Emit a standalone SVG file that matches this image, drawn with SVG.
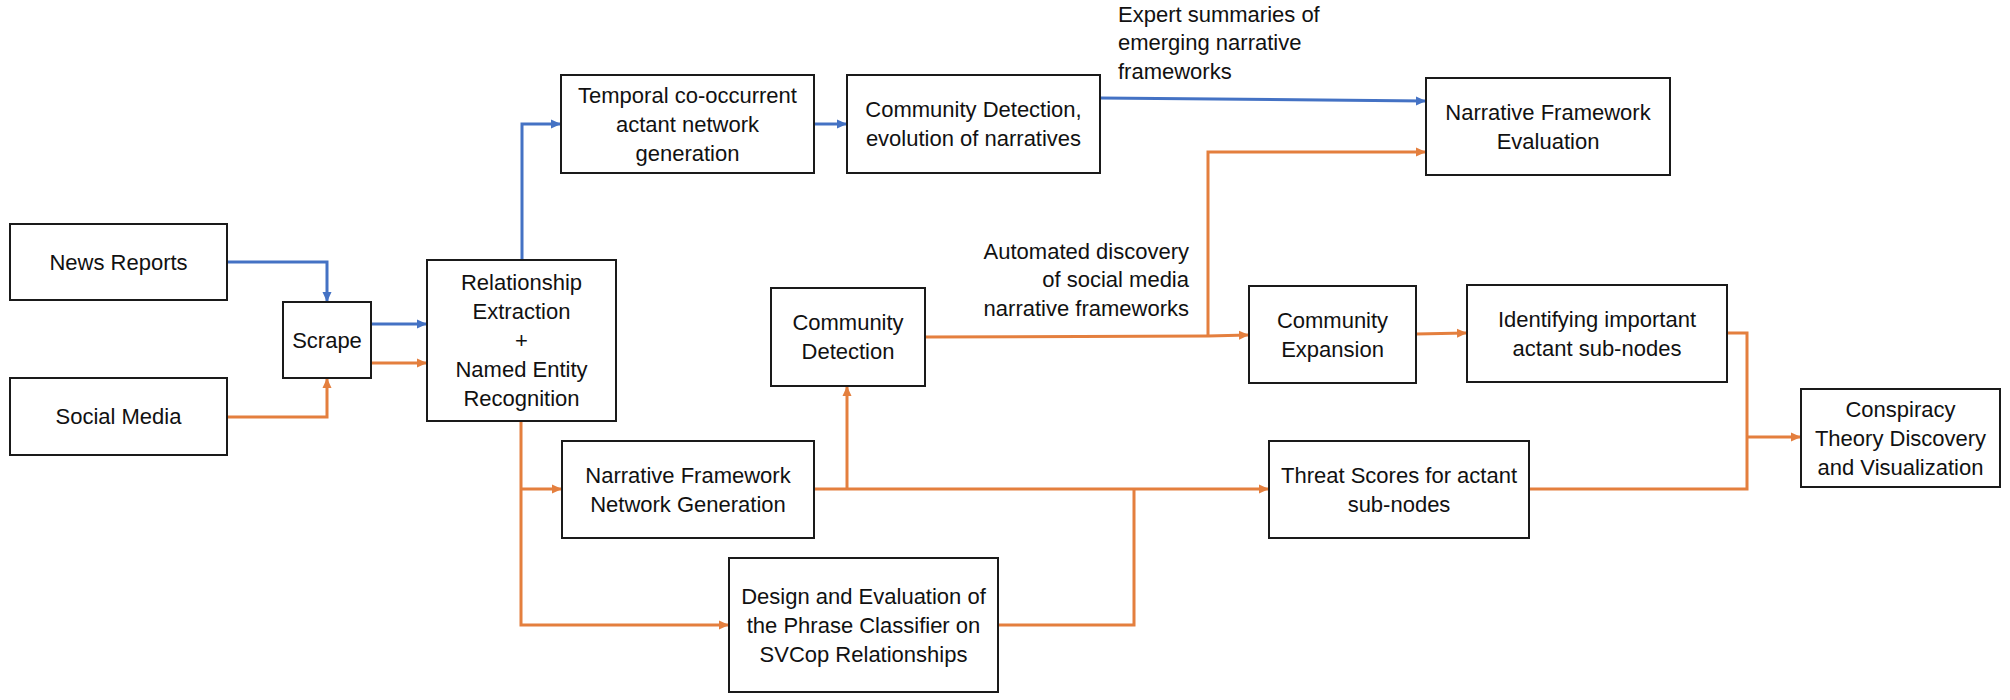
<svg xmlns="http://www.w3.org/2000/svg" width="2010" height="700" viewBox="0 0 2010 700">
<style>
.box{fill:#fff;stroke:#1a1a1a;stroke-width:2}
.t{font-family:"Liberation Sans",Arial,sans-serif;font-size:22px;fill:#111;text-anchor:middle}
.lbl{font-family:"Liberation Sans",Arial,sans-serif;font-size:22px;fill:#111}
.b{fill:none;stroke:#4472C4;stroke-width:3}
.o{fill:none;stroke:#E47F3E;stroke-width:3}
</style>
<defs>
<marker id="ab" markerUnits="userSpaceOnUse" markerWidth="10" markerHeight="10" refX="9" refY="5" orient="auto"><path d="M0,0.5 L10,5 L0,9.5 Z" fill="#4472C4"/></marker>
<marker id="ao" markerUnits="userSpaceOnUse" markerWidth="10" markerHeight="10" refX="9" refY="5" orient="auto"><path d="M0,0.5 L10,5 L0,9.5 Z" fill="#E47F3E"/></marker>
</defs>
<rect width="2010" height="700" fill="#fff"/>
<g id="connectors">
<path class="b" d="M227,262 H327 V301" marker-end="url(#ab)"/>
<path class="b" d="M371,324 H426" marker-end="url(#ab)"/>
<path class="b" d="M522,260 V124 H560" marker-end="url(#ab)"/>
<path class="b" d="M814,124 H846" marker-end="url(#ab)"/>
<path class="b" d="M1100,98 L1425,101" marker-end="url(#ab)"/>
<path class="o" d="M227,417 H327 V379" marker-end="url(#ao)"/>
<path class="o" d="M371,363 H426" marker-end="url(#ao)"/>
<path class="o" d="M521,421 V625 H728" marker-end="url(#ao)"/>
<path class="o" d="M521,489 H561" marker-end="url(#ao)"/>
<path class="o" d="M814,489 H1268" marker-end="url(#ao)"/>
<path class="o" d="M847,489 V387" marker-end="url(#ao)"/>
<path class="o" d="M998,625 H1134 V489"/>
<path class="o" d="M925,337 L1208,336 L1248,335" marker-end="url(#ao)"/>
<path class="o" d="M1208,337 V152 H1425" marker-end="url(#ao)"/>
<path class="o" d="M1416,334 L1466,333" marker-end="url(#ao)"/>
<path class="o" d="M1727,333 H1747 V489 H1529"/>
<path class="o" d="M1747,437 H1800" marker-end="url(#ao)"/>
</g>
<g id="news"><rect class="box" x="10" y="224" width="217" height="76"/><text class="t" x="118.5" y="270">News Reports</text></g>
<g id="social"><rect class="box" x="10" y="378" width="217" height="77"/><text class="t" x="118.5" y="424">Social Media</text></g>
<g id="scrape"><rect class="box" x="283" y="302" width="88" height="76"/><text class="t" x="327" y="348">Scrape</text></g>
<g id="relation"><rect class="box" x="427" y="260" width="189" height="161"/>
<text class="t" x="521.5" y="290">Relationship</text><text class="t" x="521.5" y="319">Extraction</text><text class="t" x="521.5" y="348">+</text><text class="t" x="521.5" y="377">Named Entity</text><text class="t" x="521.5" y="406">Recognition</text></g>
<g id="temporal"><rect class="box" x="561" y="75" width="253" height="98"/>
<text class="t" x="687.5" y="103">Temporal co-occurrent</text><text class="t" x="687.5" y="132">actant network</text><text class="t" x="687.5" y="161">generation</text></g>
<g id="cde"><rect class="box" x="847" y="75" width="253" height="98"/>
<text class="t" x="973.5" y="117">Community Detection,</text><text class="t" x="973.5" y="146">evolution of narratives</text></g>
<g id="nfe"><rect class="box" x="1426" y="78" width="244" height="97"/>
<text class="t" x="1548" y="120">Narrative Framework</text><text class="t" x="1548" y="149">Evaluation</text></g>
<g id="cd"><rect class="box" x="771" y="288" width="154" height="98"/>
<text class="t" x="848" y="330">Community</text><text class="t" x="848" y="359">Detection</text></g>
<g id="ce"><rect class="box" x="1249" y="286" width="167" height="97"/>
<text class="t" x="1332.5" y="328">Community</text><text class="t" x="1332.5" y="357">Expansion</text></g>
<g id="ident"><rect class="box" x="1467" y="285" width="260" height="97"/>
<text class="t" x="1597" y="327">Identifying important</text><text class="t" x="1597" y="356">actant sub-nodes</text></g>
<g id="conspiracy"><rect class="box" x="1801" y="389" width="199" height="98"/>
<text class="t" x="1900.5" y="417">Conspiracy</text><text class="t" x="1900.5" y="446">Theory Discovery</text><text class="t" x="1900.5" y="475">and Visualization</text></g>
<g id="nfng"><rect class="box" x="562" y="441" width="252" height="97"/>
<text class="t" x="688" y="483">Narrative Framework</text><text class="t" x="688" y="512">Network Generation</text></g>
<g id="threat"><rect class="box" x="1269" y="441" width="260" height="97"/>
<text class="t" x="1399" y="483">Threat Scores for actant</text><text class="t" x="1399" y="512">sub-nodes</text></g>
<g id="design"><rect class="box" x="729" y="558" width="269" height="134"/>
<text class="t" x="863.5" y="604">Design and Evaluation of</text><text class="t" x="863.5" y="633">the Phrase Classifier on</text><text class="t" x="863.5" y="662">SVCop Relationships</text></g>
<g id="label-expert"><text class="lbl" x="1118" y="22">Expert summaries of</text><text class="lbl" x="1118" y="50">emerging narrative</text><text class="lbl" x="1118" y="79">frameworks</text></g>
<g id="label-auto"><text class="lbl" text-anchor="end" x="1189" y="259">Automated discovery</text><text class="lbl" text-anchor="end" x="1189" y="287">of social media</text><text class="lbl" text-anchor="end" x="1189" y="316">narrative frameworks</text></g>
</svg>
